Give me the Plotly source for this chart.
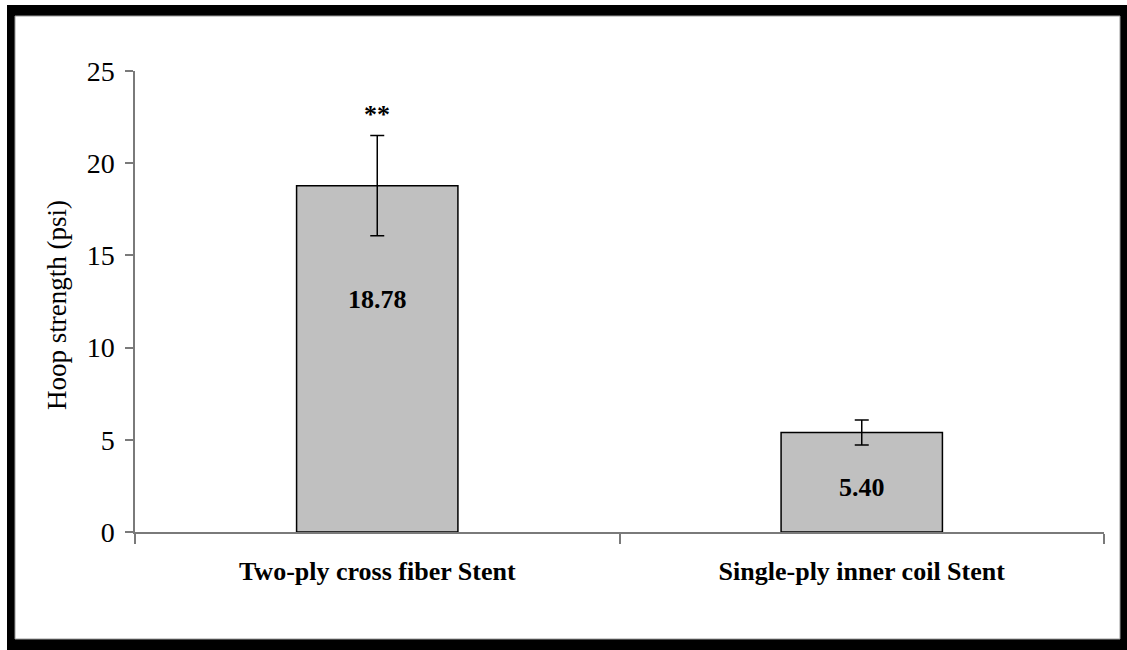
import plotly.graph_objects as go

categories = ["Two-ply cross fiber Stent", "Single-ply inner coil Stent"]
values = [18.78, 5.40]
errors = [2.72, 0.68]
value_labels = ["18.78", "5.40"]
significance = ["**", ""]
y_ticks = [0, 5, 10, 15, 20, 25]

FONT = "Liberation Serif"
W, H = 1127, 650
L, R, T, B = 135, 23, 71, 118
pw, ph = W - L - R, H - T - B


def px(x):
    return (x - L) / pw


def py(y):
    return (H - B - y) / ph


fig = go.Figure()
fig.add_trace(go.Bar(
    x=categories, y=values,
    marker=dict(color="#c0c0c0", line=dict(color="#000000", width=1.5)),
    error_y=dict(type="data", array=errors, visible=True, color="#000000",
                 thickness=1.5, width=7),
    hoverinfo="skip",
))

label_y = [12.6, 2.4]
for c, v, t, ly in zip(categories, values, value_labels, label_y):
    fig.add_annotation(x=c, y=ly, xref="x", yref="y", text="<b>%s</b>" % t,
                       showarrow=False, font=dict(family=FONT, size=26, color="#000"))
for c, s, v, e in zip(categories, significance, values, errors):
    if s:
        fig.add_annotation(x=c, y=v + e + 1.15, xref="x", yref="y", text="<b>%s</b>" % s,
                           showarrow=False, font=dict(family=FONT, size=26, color="#000"))

fig.add_annotation(x=px(57), y=py(305), xref="paper", yref="paper",
                   xanchor="center", yanchor="middle",
                   text="Hoop strength (psi)", textangle=-90, showarrow=False,
                   font=dict(family=FONT, size=27, color="#000"))

# frame
fig.add_shape(type="rect", xref="paper", yref="paper", layer="below",
              x0=px(7), x1=px(1127), y0=py(650), y1=py(5),
              fillcolor="#000000", line=dict(width=0))
fig.add_shape(type="rect", xref="paper", yref="paper", layer="below",
              x0=px(15), x1=px(1120), y0=py(639), y1=py(16),
              fillcolor="#ffffff", line=dict(color="#9a9a9a", width=1))

fig.update_layout(
    width=W, height=H,
    margin=dict(l=L, r=R, t=T, b=B, autoexpand=False),
    paper_bgcolor="#ffffff", plot_bgcolor="rgba(0,0,0,0)",
    bargap=0.667, showlegend=False,
    font=dict(family=FONT, color="#000"),
    xaxis=dict(showline=True, linecolor="#7a7a7a", linewidth=1.5,
               ticks="outside", tickson="boundaries", ticklen=10, tickwidth=1.5,
               tickcolor="#7a7a7a", showgrid=False, zeroline=False,
               tickfont=dict(family=FONT, size=26, color="#000"),
               tickprefix="<b>", ticksuffix="</b>", ticklabelstandoff=15),
    yaxis=dict(range=[0, 25], tickvals=y_ticks, showline=True, linecolor="#7a7a7a",
               linewidth=1.5, ticks="outside", ticklen=8, tickwidth=1.5,
               tickcolor="#7a7a7a", showgrid=False, zeroline=False,
               tickfont=dict(family=FONT, size=28, color="#000"), ticklabelstandoff=5),
)

fig.write_html("out.html", config={"displayModeBar": False},
               post_script="document.body.style.margin='0';document.body.style.overflow='hidden';")
